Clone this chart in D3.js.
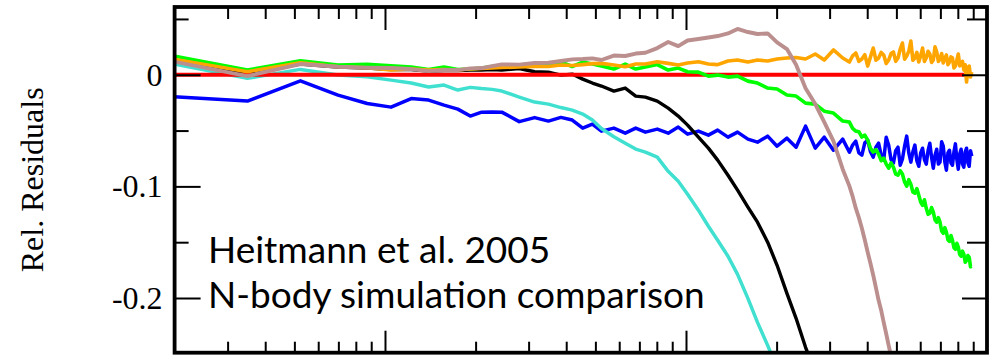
<!DOCTYPE html>
<html>
<head>
<meta charset="utf-8">
<script src="https://cdn.jsdelivr.net/npm/d3@7"></script>
<style>
  body { margin: 0; background: #fff; }
  svg { display: block; }
</style>
</head>
<body>
<div id="chart"></div>
<script>
// mode numbers, k = n * kFund (h/Mpc)
const modes = [1, 2, 3, 4, 5, 6, 7, 8, 9, 10, 11, 12, 13, 14,
  16, 18, 20, 22, 24, 26, 28, 30, 33, 36, 39, 42, 46, 50, 54, 58, 63, 68, 73, 79,
  85, 92, 99, 107, 115, 124, 133, 143, 154, 165, 177, 190,
  200, 205, 210, 215, 220, 225, 230, 235, 240, 245, 250, 255, 260, 265, 270, 275,
  280, 285, 290, 295, 300, 305, 310, 315, 320, 325, 330, 335, 340, 345, 350, 355,
  360, 365, 370, 375, 380, 385, 390, 395, 400, 405, 410, 415, 420, 425, 430, 435,
  440, 445, 450, 455, 460, 465, 470, 475, 480, 485, 490, 495, 500, 505, 510]
const kFund = 2 * Math.PI / 360

const residBlue = [-0.0187, -0.0236, -0.0054, -0.0182, -0.0257, -0.0290, -0.0213, -0.0227, -0.0272, -0.0308, -0.0370, -0.0335, -0.0333, -0.0335,
  -0.0420, -0.0384, -0.0415, -0.0382, -0.0406, -0.0478, -0.0442, -0.0505, -0.0478, -0.0523, -0.0478, -0.0514, -0.0487, -0.0523, -0.0469, -0.0532, -0.0505, -0.0541, -0.0496, -0.0559,
  -0.0514, -0.0577, -0.0604, -0.0550, -0.0640, -0.0568, -0.0649, -0.0460, -0.0657, -0.0559, -0.0676, -0.0577,
  -0.0694, -0.0630, -0.0595, -0.0700, -0.0720, -0.0610, -0.0586, -0.0690, -0.0738, -0.0650, -0.0613, -0.0720, -0.0765, -0.0560, -0.0630, -0.0760,
  -0.0792, -0.0680, -0.0649, -0.0810, -0.0756, -0.0640, -0.0550, -0.0700, -0.0783, -0.0690, -0.0630, -0.0770, -0.0820, -0.0700, -0.0658, -0.0760,
  -0.0801, -0.0680, -0.0613, -0.0740, -0.0838, -0.0720, -0.0667, -0.0800, -0.0783, -0.0600, -0.0640, -0.0780, -0.0855, -0.0700, -0.0676, -0.0790,
  -0.0810, -0.0690, -0.0619, -0.0760, -0.0846, -0.0710, -0.0667, -0.0800, -0.0828, -0.0690, -0.0658, -0.0790, -0.0820, -0.0680, -0.0729]

const residCyan = [0.0127, -0.0032, 0.0048, -0.0003, -0.0018, -0.0048, -0.0074, -0.0110, -0.0092, -0.0137, -0.0113, -0.0124, -0.0131, -0.0146,
  -0.0200, -0.0245, -0.0263, -0.0294, -0.0317, -0.0352, -0.0406, -0.0482, -0.0556, -0.0613, -0.0666, -0.0693, -0.0738, -0.0865, -0.0954, -0.1070, -0.1213, -0.1357, -0.1483, -0.1626,
  -0.1788, -0.2003, -0.2218, -0.2424, -0.2630]

const residBlack = [0.0161, 0.0011, 0.0096, 0.0069, 0.0060, 0.0047, 0.0047, 0.0033, 0.0038, 0.0038, 0.0042, 0.0042, 0.0047, 0.0042,
  0.0056, 0.0027, 0.0024, -0.0003, 0.0006, -0.0039, -0.0074, -0.0101, -0.0146, -0.0119, -0.0191, -0.0200, -0.0236, -0.0299, -0.0370, -0.0451, -0.0559, -0.0657, -0.0765, -0.0900,
  -0.1034, -0.1186, -0.1321, -0.1500, -0.1707, -0.1958, -0.2182, -0.2442, -0.2666]

const residGreen = [0.0198, 0.0042, 0.0126, 0.0087, 0.0093, 0.0081, 0.0069, 0.0047, 0.0069, 0.0047, 0.0051, 0.0060, 0.0074, 0.0083,
  0.0087, 0.0100, 0.0087, 0.0114, 0.0074, 0.0114, 0.0096, 0.0078, 0.0051, 0.0096, 0.0051, 0.0069, 0.0091, 0.0042, 0.0060, 0.0027, 0.0024, -0.0012, -0.0003, -0.0021,
  -0.0012, -0.0057, -0.0074, -0.0119, -0.0128, -0.0182, -0.0191, -0.0254, -0.0263, -0.0326, -0.0343, -0.0415,
  -0.0424, -0.0480, -0.0505, -0.0510, -0.0558, -0.0540, -0.0586, -0.0660, -0.0693, -0.0670, -0.0711, -0.0770, -0.0747, -0.0800, -0.0837, -0.0790,
  -0.0828, -0.0890, -0.0900, -0.0860, -0.0890, -0.0960, -0.0998, -0.0940, -0.0980, -0.1050, -0.1061, -0.1020, -0.1079, -0.1140, -0.1169, -0.1120,
  -0.1196, -0.1250, -0.1240, -0.1190, -0.1231, -0.1300, -0.1321, -0.1280, -0.1321, -0.1400, -0.1420, -0.1370, -0.1411, -0.1480, -0.1492, -0.1440,
  -0.1483, -0.1550, -0.1563, -0.1510, -0.1545, -0.1610, -0.1626, -0.1580, -0.1608, -0.1680, -0.1662, -0.1620, -0.1635, -0.1720, -0.1716]

const residOrange = [0.0165, 0.0027, 0.0108, 0.0072, 0.0063, 0.0042, 0.0051, 0.0042, 0.0047, 0.0042, 0.0051, 0.0056, 0.0060, 0.0065,
  0.0069, 0.0074, 0.0074, 0.0087, 0.0083, 0.0091, 0.0100, 0.0102, 0.0087, 0.0072, 0.0096, 0.0096, 0.0117, 0.0102, 0.0087, 0.0105, 0.0117, 0.0096, 0.0091, 0.0123,
  0.0132, 0.0114, 0.0132, 0.0123, 0.0141, 0.0150, 0.0154, 0.0141, 0.0186, 0.0132, 0.0222, 0.0150,
  0.0114, 0.0170, 0.0195, 0.0120, 0.0141, 0.0180, 0.0078, 0.0160, 0.0239, 0.0130, 0.0150, 0.0200, 0.0177, 0.0100, 0.0132, 0.0190,
  0.0204, 0.0120, 0.0150, 0.0230, 0.0284, 0.0140, 0.0168, 0.0210, 0.0302, 0.0130, 0.0150, 0.0200, 0.0114, 0.0170, 0.0239, 0.0120,
  0.0150, 0.0210, 0.0186, 0.0110, 0.0132, 0.0250, 0.0204, 0.0120, 0.0141, 0.0190, 0.0105, 0.0150, 0.0177, 0.0090, 0.0114, 0.0160,
  0.0150, 0.0060, 0.0078, 0.0130, 0.0186, 0.0080, 0.0096, 0.0120, 0.0042, 0.0090, -0.0065, 0.0060, 0.0078, -0.0020, 0.0024]

const residBrown = [0.0148, -0.0012, 0.0096, 0.0072, 0.0063, 0.0060, 0.0051, 0.0033, 0.0042, 0.0042, 0.0057, 0.0060, 0.0078, 0.0093,
  0.0091, 0.0105, 0.0108, 0.0123, 0.0138, 0.0141, 0.0147, 0.0132, 0.0172, 0.0168, 0.0190, 0.0197, 0.0239, 0.0293, 0.0257, 0.0307, 0.0320, 0.0334, 0.0347, 0.0370,
  0.0410, 0.0383, 0.0365, 0.0370, 0.0290, 0.0230, 0.0090, -0.0120, -0.0263, -0.0424, -0.0595, -0.0846,
  -0.0998, -0.1090, -0.1195, -0.1280, -0.1375, -0.1480, -0.1590, -0.1690, -0.1796, -0.1910, -0.2021, -0.2110, -0.2218, -0.2320, -0.2424, -0.2520,
  -0.2604]

// reference line: zero residual, from the left edge up to the last mode
const residRed = [0, 0]
const redK = [0.02, 510 * kFund]

const xMajorTicks = [0.1, 1]
const xMinorTicks = [0.03, 0.04, 0.05, 0.06, 0.07, 0.08, 0.09, 0.2, 0.3, 0.4, 0.5, 0.6, 0.7, 0.8, 0.9, 2, 3, 4, 5, 6, 7, 8, 9]
const yMajorTicks = [0, -0.1, -0.2]
const yMinorTicks = [0.05, -0.05, -0.15]
const yLabel = 'Rel. Residuals'
const noteLines = ['Heitmann et al. 2005', 'N-body simulation comparison']

const width = 996
const height = 361
const plotLeft = 174.6, plotRight = 987, plotTop = 7, plotBottom = 352.7

const svg = d3
  .select('#chart')
  .append('svg')
  .attr('width', width)
  .attr('height', height)

const x = d3.scaleLog().domain([0.02, 10]).range([plotLeft, plotRight])
const y = d3.scaleLinear().domain([-0.249, 0.0607]).range([plotBottom, plotTop])

svg.append('clipPath').attr('id', 'plot-clip')
  .append('rect')
  .attr('x', plotLeft).attr('y', plotTop)
  .attr('width', plotRight - plotLeft).attr('height', plotBottom - plotTop)

// series, drawn bottom to top
const series = [
  { values: residBlue, color: '#0000ff', w: 3.5 },
  { values: residCyan, color: '#40e0d0', w: 3.5 },
  { values: residBlack, color: '#000000', w: 3.4 },
  { values: residRed, color: '#ff0000', w: 4, k: redK },
  { values: residGreen, color: '#00ff00', w: 3.6 },
  { values: residOrange, color: '#ffa500', w: 3.6 },
  { values: residBrown, color: '#bc8f8f', w: 3.9 }
]

const plot = svg.append('g')
series.forEach(s => {
  const kk = s.k || modes.map(n => n * kFund)
  const line = d3.line()
    .x((d, i) => x(kk[i]))
    .y(d => y(d))
  const path = plot.append('path')
    .datum(s.values)
    .attr('fill', 'none')
    .attr('stroke', s.color)
    .attr('stroke-width', s.w)
    .attr('stroke-linejoin', 'round')
    .attr('d', line)
  if (!s.k) path.attr('clip-path', 'url(#plot-clip)')
})

// ticks
function tickAxis(axis, tx, ty) {
  const g = svg.append('g')
    .attr('transform', 'translate(' + tx + ',' + ty + ')')
    .call(axis.tickSizeOuter(0))
  g.select('.domain').remove()
  g.selectAll('line').attr('stroke', '#000').attr('stroke-width', 2)
  return g
}
const noText = () => ''

tickAxis(d3.axisBottom(x).tickValues(xMinorTicks).tickSize(-11).tickFormat(noText), 0, plotBottom)
tickAxis(d3.axisBottom(x).tickValues(xMajorTicks).tickSize(-22).tickFormat(noText), 0, plotBottom)
tickAxis(d3.axisTop(x).tickValues(xMinorTicks).tickSize(-12).tickFormat(noText), 0, plotTop)
tickAxis(d3.axisTop(x).tickValues(xMajorTicks).tickSize(-23).tickFormat(noText), 0, plotTop)
tickAxis(d3.axisRight(y).tickValues(yMinorTicks).tickSize(-20).tickFormat(noText), plotRight, 0)
tickAxis(d3.axisRight(y).tickValues(yMajorTicks).tickSize(-25).tickFormat(noText), plotRight, 0)
tickAxis(d3.axisLeft(y).tickValues(yMinorTicks).tickSize(-14).tickFormat(noText), plotLeft, 0)

const yAxis = tickAxis(
  d3.axisLeft(y).tickValues(yMajorTicks).tickSize(-26).tickPadding(12)
    .tickFormat(d => d === 0 ? '0' : String(d)),
  plotLeft, 0)
yAxis.selectAll('text')
  .attr('fill', '#000')
  .style('font-family', '"Liberation Serif", "Times New Roman", serif')
  .style('font-size', '32px')

// frame
svg.append('rect')
  .attr('x', plotLeft).attr('y', plotTop)
  .attr('width', plotRight - plotLeft).attr('height', plotBottom - plotTop)
  .attr('fill', 'none')
  .attr('stroke', '#000')
  .attr('stroke-width', 3.8)

svg.append('text')
  .attr('transform', 'translate(43,' + (plotTop + plotBottom) / 2 + ') rotate(-90)')
  .attr('text-anchor', 'middle')
  .style('font-family', '"Liberation Serif", "Times New Roman", serif')
  .style('font-size', '32px')
  .text(yLabel)

// annotation
const note = svg.append('g')
  .style('font-family', 'Lato, "Open Sans", sans-serif')
  .style('font-size', '36px')
  .attr('fill', '#000')
note.selectAll('text')
  .data(noteLines)
  .enter()
  .append('text')
  .attr('x', 208)
  .attr('y', (d, i) => 263 + i * 45)
  .text(d => d)

const w2 = note.selectAll('text').nodes()[1].getComputedTextLength()
note.style('font-size', (36 * 496 / w2).toFixed(1) + 'px')
</script>
</body>
</html>
